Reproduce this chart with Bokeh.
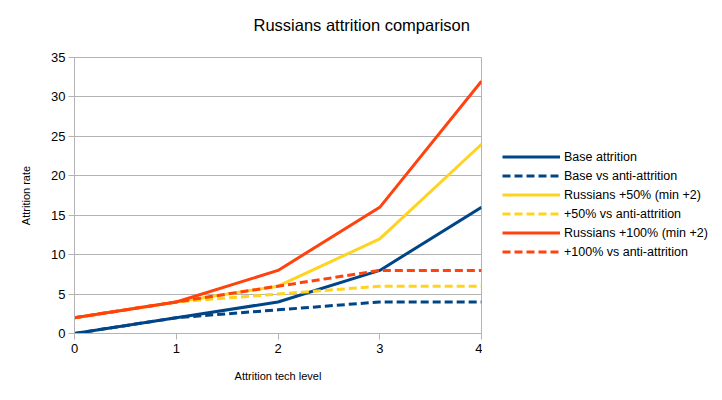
from bokeh.plotting import figure
from bokeh.layouts import row
from bokeh.models import Range1d, FixedTicker, Legend, LegendItem, Title
from bokeh.embed import file_html
from bokeh.resources import INLINE

levels = [0, 1, 2, 3, 4]
base = [0, 2, 4, 8, 16]
base_anti = [0, 2, 3, 4, 4]
rus50 = [2, 4, 6, 12, 24]
rus50_anti = [2, 4, 5, 6, 6]
rus100 = [2, 4, 8, 16, 32]
rus100_anti = [2, 4, 6, 8, 8]
y_ticks = [0, 5, 10, 15, 20, 25, 30, 35]

BLUE = "#004586"
YELLOW = "#ffd320"
RED = "#ff420e"
GRID = "#b3b3b3"
FONT = "Liberation Sans"

p = figure(width=482, height=392, output_backend="svg", toolbar_location=None,
           x_range=Range1d(0, 4), y_range=Range1d(0, 35),
           min_border_left=74, min_border_right=1, min_border_bottom=59, min_border_top=57)
p.title = None
# spacer between title and plot area
spacer = Title(text=" ", text_font_size="1px", standoff=19)
p.add_layout(spacer, "above")
t = Title(text="Russians attrition comparison", align="left", offset=179,
          text_font=FONT, text_font_size="16.5px", text_font_style="normal",
          text_color="#000000", standoff=4)
p.add_layout(t, "above")

p.xaxis.ticker = FixedTicker(ticks=levels)
p.yaxis.ticker = FixedTicker(ticks=y_ticks)
for ax in (p.xaxis, p.yaxis):
    ax.axis_line_color = GRID
    ax.major_tick_line_color = GRID
    ax.minor_tick_line_color = None
    ax.major_tick_in = 0
    ax.major_tick_out = 6
    ax.major_label_text_font = FONT
    ax.major_label_text_font_size = "13px"
    ax.major_label_text_color = "#000000"
    ax.axis_label_text_font = FONT
    ax.axis_label_text_font_size = "11px"
    ax.axis_label_text_font_style = "normal"
    ax.axis_label_text_color = "#000000"
p.xaxis.axis_label = "Attrition tech level"
p.yaxis.axis_label = "Attrition rate"
p.xaxis.major_label_standoff = 4
p.yaxis.major_label_standoff = 3
p.xaxis.axis_label_standoff = 14
p.yaxis.axis_label_standoff = 16
p.xgrid.grid_line_color = None
p.ygrid.grid_line_color = GRID
p.outline_line_color = GRID

# legend-only figure (its ranges keep the copies of the lines out of view)
q = figure(width=232, height=392, output_backend="svg", toolbar_location=None,
           x_range=Range1d(100, 101), y_range=Range1d(100, 101),
           x_axis_location=None, y_axis_location=None,
           min_border_left=0, min_border_right=0, min_border_top=0, min_border_bottom=0)
q.title = None
q.grid.visible = False
q.outline_line_color = None

series = [
    ("Base attrition", base, BLUE, "solid"),
    ("Base vs anti-attrition", base_anti, BLUE, "8 4"),
    ("Russians +50% (min +2)", rus50, YELLOW, "solid"),
    ("+50% vs anti-attrition", rus50_anti, YELLOW, "8 4"),
    ("Russians +100% (min +2)", rus100, RED, "solid"),
    ("+100% vs anti-attrition", rus100_anti, RED, "8 4"),
]
items = []
for label, vals, color, dash in series:
    p.line(levels, vals, line_color=color, line_width=3, line_dash=dash)
    r = q.line(levels, vals, line_color=color, line_width=3, line_dash=dash)
    items.append(LegendItem(label=label, renderers=[r]))

legend = Legend(items=items, location=(20, 72), orientation="vertical",
                border_line_color=None, background_fill_alpha=0,
                padding=0, margin=0, glyph_width=58, glyph_height=19,
                label_height=19, spacing=0, label_standoff=4,
                label_text_font=FONT, label_text_font_size="12.5px",
                label_text_color="#000000")
q.add_layout(legend, "center")

layout = row(p, q)
open("out.html", "w").write(file_html(layout, INLINE))
